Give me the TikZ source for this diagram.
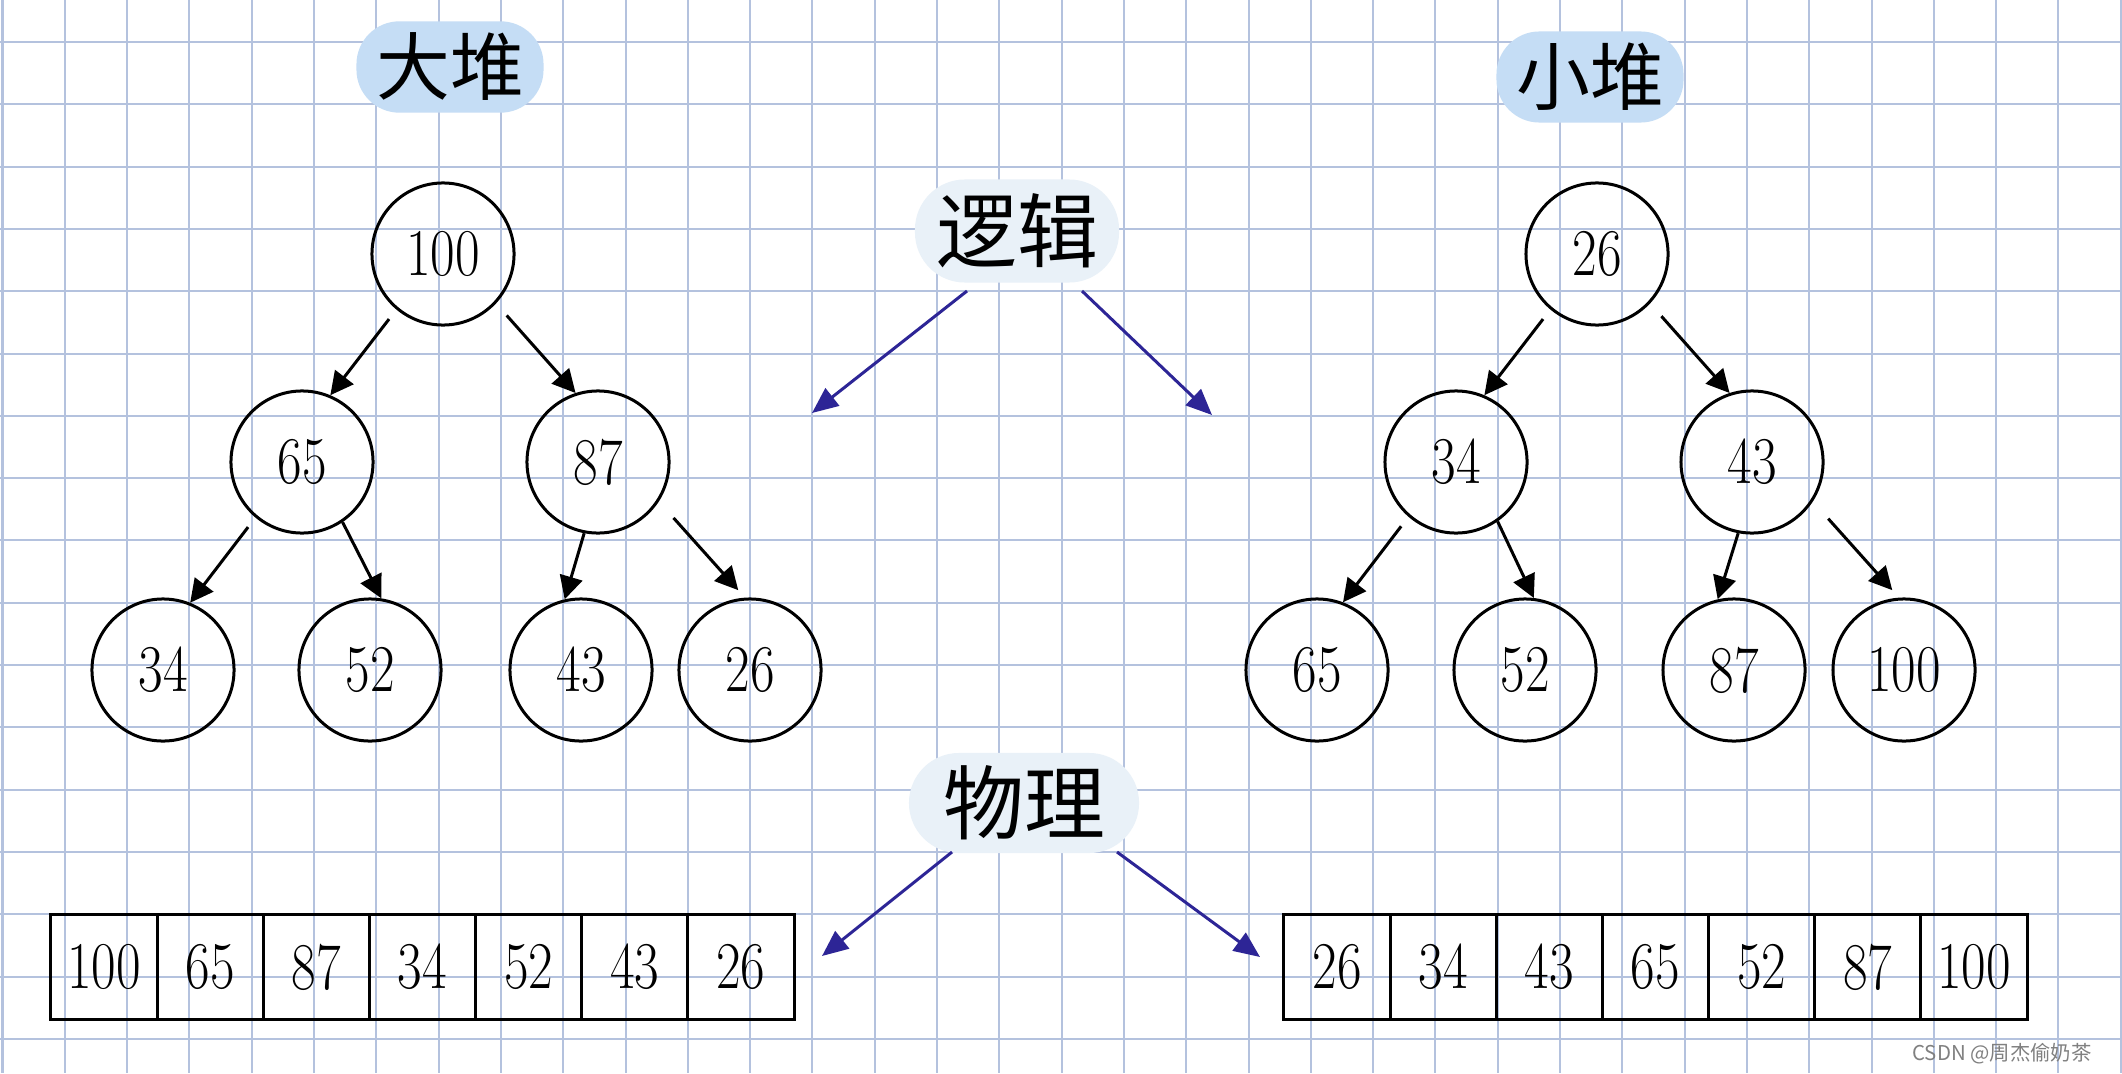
\documentclass[tikz,border=0pt]{standalone}
\usepackage{fontspec}
\newfontfamily\hzfont{Noto Sans CJK SC}
\newfontfamily\numfont{Latin Modern Roman}[FakeStretch=0.8]
\usepackage{tikz}
\usetikzlibrary{arrows.meta}
\usetikzlibrary{positioning}
\definecolor{gridblue}{RGB}{180,194,222}
\definecolor{pillblue}{RGB}{197,221,245}
\definecolor{blobblue}{RGB}{233,241,248}
\definecolor{linkblue}{RGB}{45,37,150}
\def\heapd{1.42cm}
\def\cellw{1.061cm}
\def\cellh{1.05cm}
\tikzset{
  gridline/.style={gridblue, line width=0.02cm},
  heapnode/.style={circle, draw, line width=0.03cm, minimum size=\heapd, inner sep=0pt,
    font=\numfont\fontsize{19}{19}\selectfont},
  cell/.style={draw, line width=0.03cm, minimum width=\cellw, minimum height=\cellh,
    inner sep=0pt, outer sep=0pt, font=\numfont\fontsize{19}{19}\selectfont},
  treearrow/.style={line width=0.03cm, -{Triangle[length=0.23cm, width=0.23cm]}},
  linkarrow/.style={linkblue, line width=0.03cm, -{Triangle[length=0.26cm, width=0.22cm]}},
  pill/.style={fill=pillblue, rounded corners=0.43cm, minimum width=1.87cm, minimum height=0.86cm,
    font=\hzfont\fontsize{21}{21}\selectfont},
  blob/.style={fill=blobblue, rounded corners=0.5cm, font=\hzfont\fontsize{23}{23}\selectfont}
}

\begin{document}
\begin{tikzpicture}[x=0.01cm, y=-0.01cm]
  \useasboundingbox[fill=white] (0,0) rectangle (2122,1073);
  % squared paper
  \foreach \i in {0,...,34}
    \draw[gridline] ({2.5+62.3*\i},0) -- ({2.5+62.3*\i},1073);
  \foreach \j in {0,...,16}
    \draw[gridline] (0,{42+62.3*\j}) -- (2122,{42+62.3*\j});

  % titles
  \node[pill] (bigtitle) at (450,67) {大堆};
  \node[pill] (smalltitle) at (1590,77) {小堆};
  \node[blob, minimum width=2.04cm, minimum height=1.03cm] (logic) at (1017,231) {逻辑};
  \node[blob, minimum width=2.3cm, minimum height=1.0cm] (phys) at (1024,803) {物理};

  % big heap
  \node[heapnode] (b100) at (443,254) {100};
  \node[heapnode] (b65) at (302,462) {65};
  \node[heapnode] (b87) at (598,462) {87};
  \node[heapnode] (b34) at (163,670) {34};
  \node[heapnode] (b52) at (370,670) {52};
  \node[heapnode] (b43) at (581,670) {43};
  \node[heapnode] (b26) at (750,670) {26};
  \draw[treearrow, shorten <=0.12cm] (b100.230) -- (b65.67);
  \draw[treearrow, shorten <=0.16cm] (b100.317) -- (b87.108);
  \draw[treearrow, shorten <=0.12cm] (b65.230) -- (b34.68);
  \draw[treearrow] (b65.304) -- (b52.81);
  \draw[treearrow] (b87.259) -- (b43.103);
  \draw[treearrow, shorten <=0.22cm, shorten >=0.1cm] (b87.327) -- (b26.94);

  % small heap
  \node[heapnode] (s26) at (1597,254) {26};
  \node[heapnode] (s34) at (1456,462) {34};
  \node[heapnode] (s43) at (1752,462) {43};
  \node[heapnode] (s65) at (1317,670) {65};
  \node[heapnode] (s52) at (1525,670) {52};
  \node[heapnode] (s87) at (1734,670) {87};
  \node[heapnode] (s100) at (1904,670) {100};
  \draw[treearrow, shorten <=0.12cm] (s26.230) -- (s34.67);
  \draw[treearrow, shorten <=0.17cm] (s26.317) -- (s43.108);
  \draw[treearrow, shorten <=0.12cm] (s34.229) -- (s65.69);
  \draw[treearrow] (s34.305) -- (s52.83);
  \draw[treearrow] (s43.259) -- (s87.103);
  \draw[treearrow, shorten <=0.23cm, shorten >=0.1cm] (s43.327) -- (s100.94);

  % arrays
  \node[cell] (ba1) at (104,967) {100};
  \node[cell, right=0pt of ba1] (ba2) {65};
  \node[cell, right=0pt of ba2] (ba3) {87};
  \node[cell, right=0pt of ba3] (ba4) {34};
  \node[cell, right=0pt of ba4] (ba5) {52};
  \node[cell, right=0pt of ba5] (ba6) {43};
  \node[cell, right=0pt of ba6] (ba7) {26};
  \node[cell] (sa1) at (1337,967) {26};
  \node[cell, right=0pt of sa1] (sa2) {34};
  \node[cell, right=0pt of sa2] (sa3) {43};
  \node[cell, right=0pt of sa3] (sa4) {65};
  \node[cell, right=0pt of sa4] (sa5) {52};
  \node[cell, right=0pt of sa5] (sa6) {87};
  \node[cell, right=0pt of sa6] (sa7) {100};

  % blue arrows
  \coordinate (logicl) at (967,291);
  \coordinate (logicle) at (812,413);
  \coordinate (logicr) at (1082,291);
  \coordinate (logicre) at (1212,415);
  \coordinate (physl) at (952,852);
  \coordinate (physle) at (822,956);
  \coordinate (physr) at (1117,852);
  \coordinate (physre) at (1260,957);
  \draw[linkarrow] (logicl) -- (logicle);
  \draw[linkarrow] (logicr) -- (logicre);
  \draw[linkarrow] (physl) -- (physle);
  \draw[linkarrow] (physr) -- (physre);

  \node[anchor=east, text=gray, font=\hzfont\fontsize{5.8}{6}\selectfont] (mark) at (2104,1054) {CSDN @周杰偷奶茶};
\end{tikzpicture}
\end{document}
